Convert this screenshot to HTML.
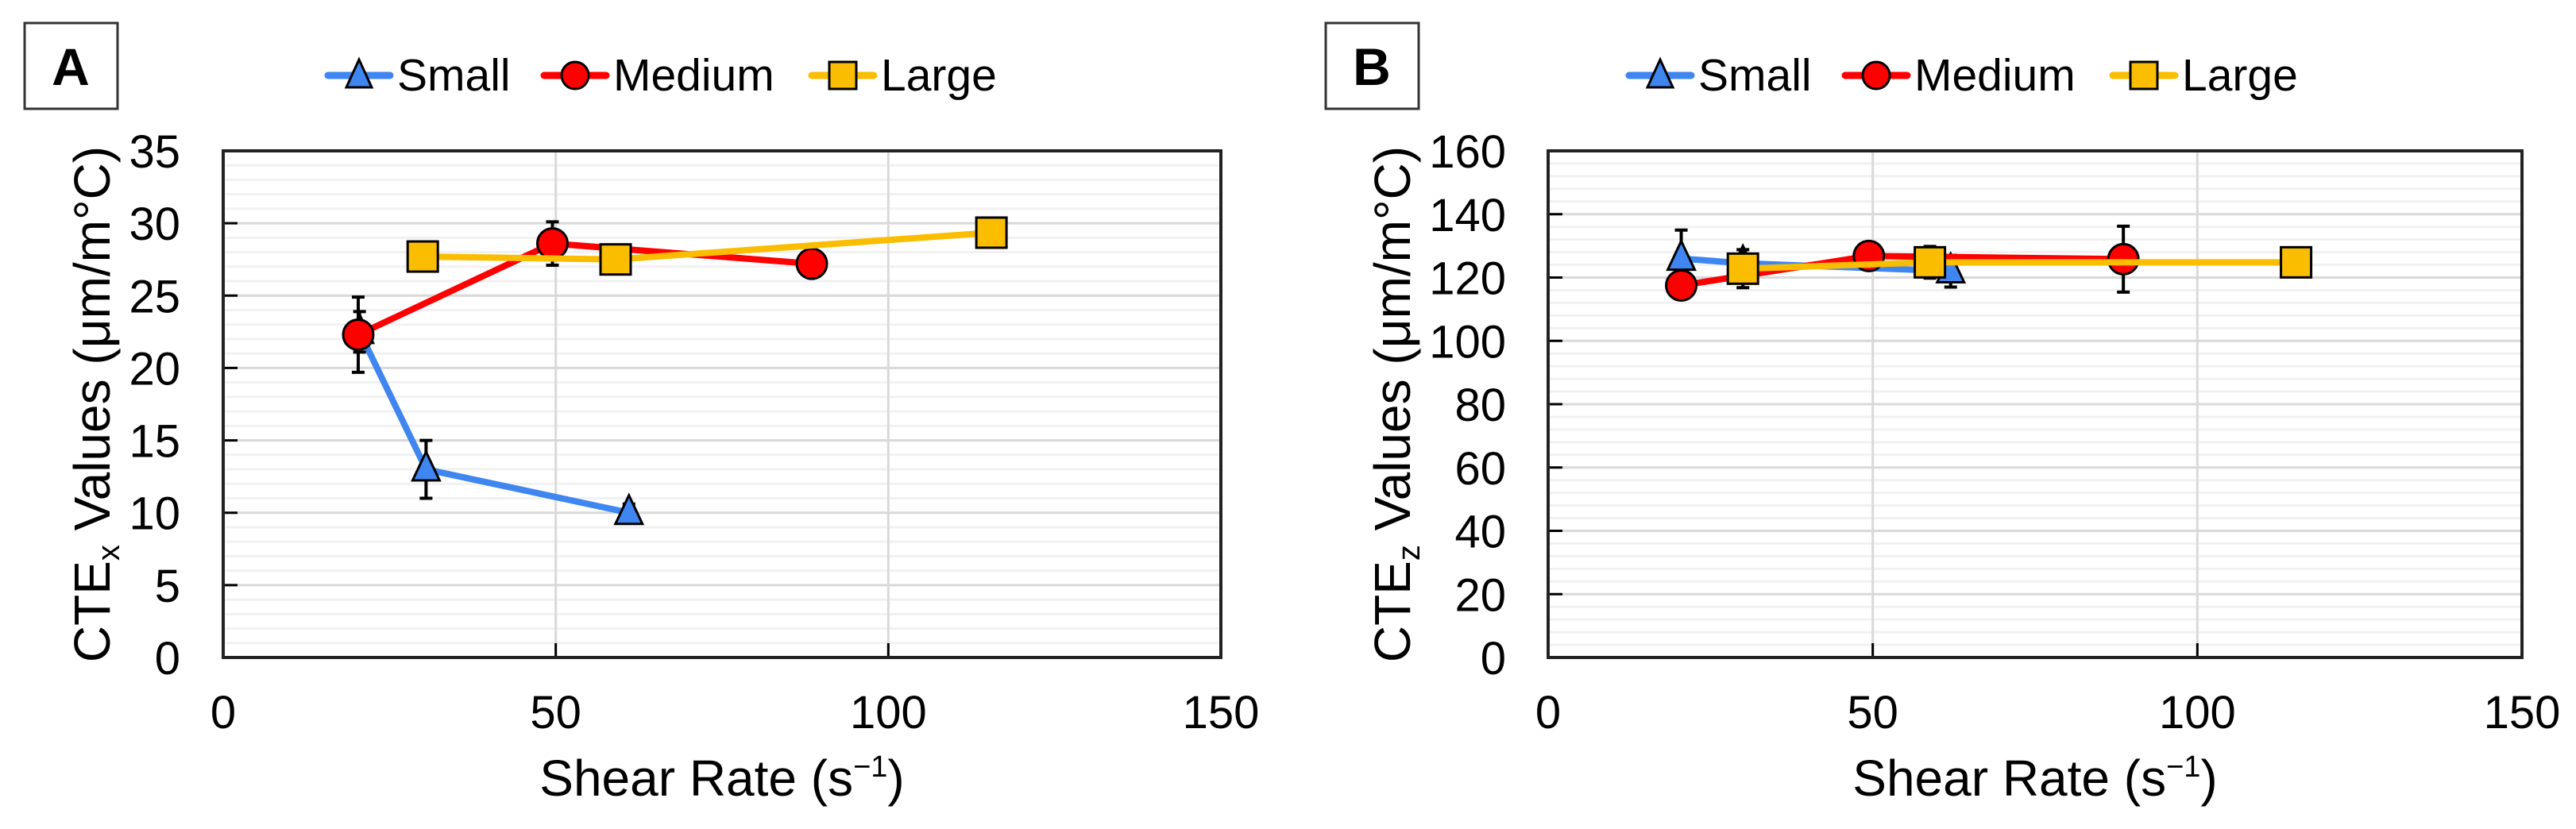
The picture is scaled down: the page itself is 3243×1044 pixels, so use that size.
<!DOCTYPE html>
<html><head><meta charset="utf-8"><style>
html,body{margin:0;padding:0;background:#fff;}
svg{display:block;font-family:"Liberation Sans",Arial,sans-serif;}
</style></head><body>
<svg id="svg" width="3243" height="1044" viewBox="0 0 3243 1044" xmlns="http://www.w3.org/2000/svg"></svg>
<script>
// ---- Panel A data (CTEx) ----
const xTicks = [0, 50, 100, 150];
const aYTicks = [0, 5, 10, 15, 20, 25, 30, 35];
const aSmallX = [20.5, 30.5, 61];
const aSmallY = [22.5, 13.0, 10.0];
const aSmallErr = [1.4, 2.0, 0.6];
const aMediumX = [20.3, 49.5, 88.5];
const aMediumY = [22.3, 28.6, 27.2];
const aMediumErr = [2.6, 1.5, 0.7];
const aLargeX = [30, 59, 115.5];
const aLargeY = [27.7, 27.5, 29.35];
const aLargeErr = [0, 0, 0];
// ---- Panel B data (CTEz) ----
const bYTicks = [0, 20, 40, 60, 80, 100, 120, 140, 160];
const bSmallX = [20.5, 30, 62];
const bSmallY = [126, 124.5, 122];
const bSmallErr = [9, 0, 5];
const bMediumX = [20.5, 49.4, 88.6];
const bMediumY = [117.5, 126.8, 125.8];
const bMediumErr = [0, 3.5, 10.4];
const bLargeX = [30, 58.8, 115.2];
const bLargeY = [122.8, 124.8, 124.8];
const bLargeErr = [6, 5, 0];

const NS = "http://www.w3.org/2000/svg";
const svg = document.getElementById('svg');
function el(tag, attrs, parent) {
  const e = document.createElementNS(NS, tag);
  for (const k in attrs) e.setAttribute(k, attrs[k]);
  (parent || svg).appendChild(e);
  return e;
}
const BLUE = "#3f86f0", RED = "#ff0000", YEL = "#fbbd00";

function panel(cfg) {
  const g = el('g', {});
  
  
  const L = cfg.left, R = cfg.right, T = 190, B = 828;
  const ymax = cfg.yTicks[cfg.yTicks.length - 1];
  const xs = v => L + (v / 150) * (R - L);
  const ys = v => B - (v / ymax) * (B - T);
  for (let v = 0; v <= ymax; v += cfg.minor) {
    const ln = el('line', {x1: L, x2: R, y1: ys(v), y2: ys(v), stroke: '#f1f1f1', 'stroke-width': 3}, g);
    
    
  }
  cfg.yTicks.forEach(v => {
    const ln = el('line', {x1: L, x2: R, y1: ys(v), y2: ys(v), stroke: '#d9d9d9', 'stroke-width': 3}, g);
    
    
    const tk = el('line', {x1: L, x2: L + 18, y1: ys(v), y2: ys(v), stroke: '#000', 'stroke-width': 3}, g);
    
    
    const t = el('text', {x: cfg.labelRight, y: ys(v) + 21, 'font-size': 58, 'text-anchor': 'end', fill: '#000'}, g);
    t.textContent = v;
    
    
  });
  xTicks.forEach(v => {
    if (v > 0 && v < 150) {
      const ln = el('line', {x1: xs(v), x2: xs(v), y1: T, y2: B, stroke: '#d9d9d9', 'stroke-width': 3}, g);
      
      
      const tk = el('line', {x1: xs(v), x2: xs(v), y1: B, y2: B - 18, stroke: '#000', 'stroke-width': 3}, g);
      
      
    }
    const t = el('text', {x: xs(v), y: 917, 'font-size': 58, 'text-anchor': 'middle', fill: '#000'}, g);
    t.textContent = v;
    
    
  });
  const fr = el('rect', {x: L, y: T, width: R - L, height: B - T, fill: 'none', stroke: '#222', 'stroke-width': 4}, g);
  
  
  const xt = el('text', {x: (L + R) / 2, y: 1002, 'font-size': 64, 'text-anchor': 'middle', fill: '#000'}, g);
  xt.innerHTML = 'Shear Rate (s<tspan dy="-24" font-size="38">−1</tspan><tspan dy="24">)</tspan>';
  
  
  const yt = el('text', {x: 0, y: 0, 'font-size': 64, 'text-anchor': 'middle', fill: '#000', transform: `translate(${cfg.titleX},509) rotate(-90)`}, g);
  yt.innerHTML = `CTE<tspan dy="12" font-size="40">${cfg.sub}</tspan><tspan dy="-12"> Values (μm/m°C)</tspan>`;
  
  
  const bx = el('rect', {x: cfg.boxX, y: 29, width: 117, height: 108, fill: '#fff', stroke: '#333', 'stroke-width': 3}, g);
  
  
  const bl = el('text', {x: cfg.boxX + 58, y: 107, 'font-size': 66, 'font-weight': 'bold', 'text-anchor': 'middle'}, g);
  bl.textContent = cfg.letter;
  
  
  const series = [
    {n: 'small', c: BLUE, m: 'tri', x: cfg.sx, y: cfg.sy, e: cfg.se},
    {n: 'medium', c: RED, m: 'circ', x: cfg.mx, y: cfg.my, e: cfg.me},
    {n: 'large', c: YEL, m: 'sq', x: cfg.lx, y: cfg.ly, e: cfg.le}
  ];
  series.forEach(s => {
    const sg = el('g', {}, g);
    
    
    const pts = s.x.map((v, i) => xs(v) + ',' + ys(s.y[i])).join(' ');
    const pl = el('polyline', {points: pts, fill: 'none', stroke: s.c, 'stroke-width': 8, 'stroke-linejoin': 'round'}, sg);
    
    
    s.x.forEach((v, i) => {
      const cx = xs(v), cy = ys(s.y[i]), e = s.e[i];
      if (e > 0) {
        const y1 = ys(s.y[i] + e), y2 = ys(s.y[i] - e);
        const eb = el('path', {d: `M${cx},${y1}V${y2}M${cx - 8},${y1}H${cx + 8}M${cx - 8},${y2}H${cx + 8}`, stroke: '#000', 'stroke-width': 4, fill: 'none'}, sg);
        
        
      }
      let mk;
      if (s.m === 'tri') mk = el('path', {d: `M${cx},${cy - 22}L${cx + 17},${cy + 14}L${cx - 17},${cy + 14}Z`, fill: s.c, stroke: '#000', 'stroke-width': 3}, sg);
      else if (s.m === 'circ') mk = el('circle', {cx: cx, cy: cy, r: 19, fill: s.c, stroke: '#000', 'stroke-width': 3}, sg);
      else mk = el('rect', {x: cx - 19, y: cy - 19, width: 38, height: 38, fill: s.c, stroke: '#000', 'stroke-width': 3}, sg);
      
      
    });
  });
  const lg = el('g', {}, g);
  
  
  const offs = [0, 272, 609];
  const names = ['Small', 'Medium', 'Large'];
  series.forEach((s, i) => {
    const x0 = cfg.legX + offs[i];
    const eg = el('g', {}, lg);
    
    
    el('line', {x1: x0, x2: x0 + 78, y1: 95, y2: 95, stroke: s.c, 'stroke-width': 9, 'stroke-linecap': 'round'}, eg);
    const cx = x0 + 39, cy = 95;
    if (s.m === 'tri') el('path', {d: `M${cx},${cy - 20}L${cx + 16},${cy + 15}L${cx - 16},${cy + 15}Z`, fill: s.c, stroke: '#000', 'stroke-width': 3}, eg);
    else if (s.m === 'circ') el('circle', {cx: cx, cy: cy, r: 17, fill: s.c, stroke: '#000', 'stroke-width': 3}, eg);
    else el('rect', {x: cx - 17, y: cy - 17, width: 34, height: 34, fill: s.c, stroke: '#000', 'stroke-width': 3}, eg);
    const t = el('text', {x: x0 + 87, y: 114, 'font-size': 57, fill: '#000'}, eg);
    t.textContent = names[i];
  });
}

panel({name: 'panel-a', letter: 'A', sub: 'x', left: 281, right: 1537, labelRight: 227, titleX: 138, boxX: 31, legX: 413, minor: 1,
  yTicks: aYTicks, sx: aSmallX, sy: aSmallY, se: aSmallErr, mx: aMediumX, my: aMediumY, me: aMediumErr, lx: aLargeX, ly: aLargeY, le: aLargeErr});
panel({name: 'panel-b', letter: 'B', sub: 'z', left: 1949, right: 3175, labelRight: 1896, titleX: 1775, boxX: 1669, legX: 2051, minor: 4,
  yTicks: bYTicks, sx: bSmallX, sy: bSmallY, se: bSmallErr, mx: bMediumX, my: bMediumY, me: bMediumErr, lx: bLargeX, ly: bLargeY, le: bLargeErr});
</script>
</body></html>
